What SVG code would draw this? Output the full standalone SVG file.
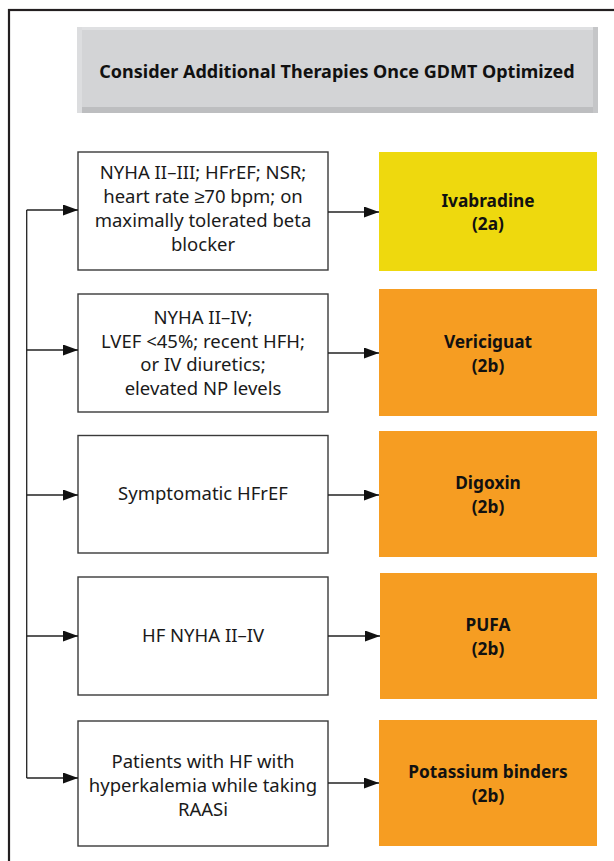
<svg xmlns="http://www.w3.org/2000/svg" width="614" height="861" viewBox="0 0 614 861">
<defs>
<style>
.frame{fill:none;stroke:#231f20;stroke-width:2.2}
.cond{fill:#fff;stroke:#3a3a3a;stroke-width:1.4}
.yel{fill:#eed90e}
.org{fill:#f69d22}
.ct{font-family:"Noto Sans","Liberation Sans",sans-serif;font-size:18.5px;fill:#1a1a1a;text-anchor:middle}
.tt{font-family:"Noto Sans","Liberation Sans",sans-serif;font-size:17.3px;font-weight:bold;fill:#111;text-anchor:middle}
.ht{font-family:"Noto Sans","Liberation Sans",sans-serif;font-size:18px;font-weight:bold;fill:#111;text-anchor:middle}
.ln{fill:none;stroke:#222;stroke-width:1.3}
</style>
<marker id="ah" viewBox="0 0 15 11" refX="15" refY="5.5" markerWidth="15" markerHeight="11" markerUnits="userSpaceOnUse" orient="auto">
<path d="M0,0 L15,5.5 L0,11 Z" fill="#111"/>
</marker>
</defs>
<rect width="614" height="861" fill="#fff"/>
<rect class="frame" x="9" y="10" width="620" height="870"/>
<g id="header">
<rect x="77" y="27" width="521" height="86" fill="#d3d4d6"/>
<rect x="77" y="27" width="521" height="3" fill="#dfe0e2"/>
<rect x="77" y="107" width="521" height="6" fill="#bdbec0"/>
<rect x="77" y="27" width="5" height="86" fill="#dcdddf"/>
<rect x="593" y="27" width="5" height="86" fill="#c5c6c8"/>
<text class="ht" x="337" y="77.5">Consider Additional Therapies Once GDMT Optimized</text>
</g>
<g id="cond1">
<rect class="cond" x="78" y="152" width="250" height="118"/>
<text class="ct" x="203" y="179">NYHA II–III; HFrEF; NSR;</text>
<text class="ct" x="203" y="203">heart rate ≥70 bpm; on</text>
<text class="ct" x="203" y="227">maximally tolerated beta</text>
<text class="ct" x="203" y="251">blocker</text>
</g>
<g id="ther1">
<rect class="yel" x="379" y="152" width="218" height="119"/>
<text class="tt" x="488" y="207">Ivabradine</text>
<text class="tt" x="488" y="230">(2a)</text>
</g>
<g id="cond2">
<rect class="cond" x="78" y="294" width="250" height="118"/>
<text class="ct" x="203" y="324">NYHA II–IV;</text>
<text class="ct" x="203" y="347.5">LVEF &lt;45%; recent HFH;</text>
<text class="ct" x="203" y="371">or IV diuretics;</text>
<text class="ct" x="203" y="394.5">elevated NP levels</text>
</g>
<g id="ther2">
<rect class="org" x="379" y="289" width="218" height="127"/>
<text class="tt" x="488" y="348">Vericiguat</text>
<text class="tt" x="488" y="372">(2b)</text>
</g>
<g id="cond3">
<rect class="cond" x="78" y="435.5" width="250" height="117.5"/>
<text class="ct" x="203" y="500">Symptomatic HFrEF</text>
</g>
<g id="ther3">
<rect class="org" x="379" y="431" width="218" height="126"/>
<text class="tt" x="488" y="489">Digoxin</text>
<text class="tt" x="488" y="513">(2b)</text>
</g>
<g id="cond4">
<rect class="cond" x="78" y="577" width="250" height="118"/>
<text class="ct" x="203" y="642">HF NYHA II–IV</text>
</g>
<g id="ther4">
<rect class="org" x="380" y="573" width="217" height="126"/>
<text class="tt" x="488" y="631">PUFA</text>
<text class="tt" x="488" y="655">(2b)</text>
</g>
<g id="cond5">
<rect class="cond" x="78" y="721" width="250" height="125"/>
<text class="ct" x="203" y="768">Patients with HF with</text>
<text class="ct" x="203" y="792">hyperkalemia while taking</text>
<text class="ct" x="203" y="816">RAASi</text>
</g>
<g id="ther5">
<rect class="org" x="379" y="720" width="218" height="126"/>
<text class="tt" x="488" y="778">Potassium binders</text>
<text class="tt" x="488" y="802">(2b)</text>
</g>
<g id="connectors">
<polyline class="ln" points="26.7,210 26.7,778"/>
<line class="ln" x1="26.7" y1="210" x2="78" y2="210" marker-end="url(#ah)"/>
<line class="ln" x1="26.7" y1="350" x2="78" y2="350" marker-end="url(#ah)"/>
<line class="ln" x1="26.7" y1="495" x2="78" y2="495" marker-end="url(#ah)"/>
<line class="ln" x1="26.7" y1="636" x2="78" y2="636" marker-end="url(#ah)"/>
<line class="ln" x1="26.7" y1="778" x2="78" y2="778" marker-end="url(#ah)"/>
<line class="ln" x1="328" y1="212" x2="379" y2="212" marker-end="url(#ah)"/>
<line class="ln" x1="328" y1="353" x2="379" y2="353" marker-end="url(#ah)"/>
<line class="ln" x1="328" y1="495" x2="379" y2="495" marker-end="url(#ah)"/>
<line class="ln" x1="328" y1="636" x2="380" y2="636" marker-end="url(#ah)"/>
<line class="ln" x1="328" y1="783" x2="379" y2="783" marker-end="url(#ah)"/>
</g>
</svg>
